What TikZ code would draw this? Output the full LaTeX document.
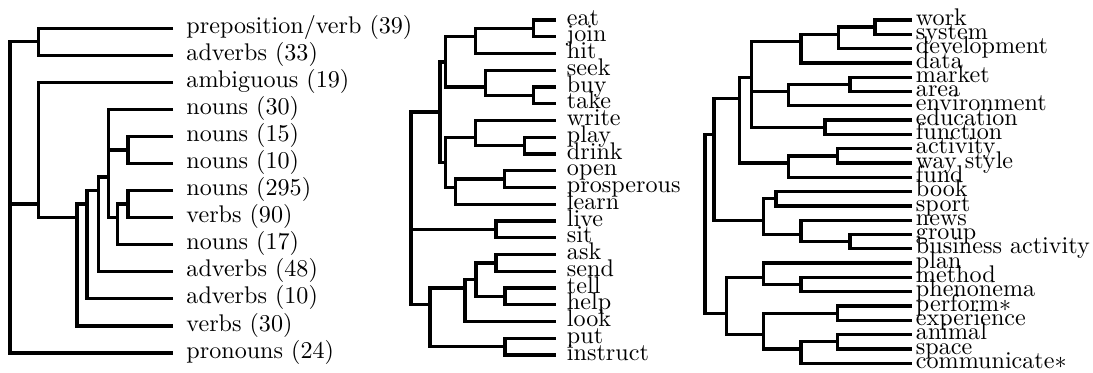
\documentclass[tikz,border=0pt]{standalone}
\begin{document}
\begin{tikzpicture}[x=0.415pt,y=-0.415pt,
  link/.style={line width=1.37pt, line join=miter},
  lab/.style={anchor=mid west, inner sep=0pt, font=\fontsize{10}{12}\selectfont}]
\useasboundingbox (0,0) rectangle (1093,372);

% ---------- left dendrogram ----------
\foreach \i/\y in {0/28.3,1/55.35,2/82.4,3/109.45,4/136.5,5/163.55,6/190.6,7/217.65,8/244.7,9/271.75,10/298.8,11/325.85,12/352.9}
  \coordinate (L\i) at (173,\y);
\node[lab] (tL0) at (186,28.3) {preposition/verb (39)};
\node[lab] (tL1) at (186,55.35) {adverbs (33)};
\node[lab] (tL2) at (186,82.4) {ambiguous (19)};
\node[lab] (tL3) at (186,109.45) {nouns (30)};
\node[lab] (tL4) at (186,136.5) {nouns (15)};
\node[lab] (tL5) at (186,163.55) {nouns (10)};
\node[lab] (tL6) at (186,190.6) {nouns (295)};
\node[lab] (tL7) at (186,217.65) {verbs (90)};
\node[lab] (tL8) at (186,244.7) {nouns (17)};
\node[lab] (tL9) at (186,271.75) {adverbs (48)};
\node[lab] (tL10) at (186,298.8) {adverbs (10)};
\node[lab] (tL11) at (186,325.85) {verbs (30)};
\node[lab] (tL12) at (186,352.9) {pronouns (24)};

\coordinate (A) at (38.3,41.8);
\coordinate (Lroot) at (10,204.1);
\coordinate (B) at (38.3,204.1);
\coordinate (C) at (77,217.65);
\coordinate (D) at (87,204.1);
\coordinate (E) at (98.3,190.6);
\coordinate (F) at (108.3,177.1);
\coordinate (H) at (128,150);
\coordinate (G) at (117.3,217.65);
\coordinate (I) at (128,204.1);

\draw[link] (L0) -| (A) |- (L1);
\draw[link] (A) -| (Lroot) |- (L12);
\draw[link] (B) -- (Lroot);
\draw[link] (L2) -| (B) |- (C);
\draw[link] (D) -| (C) |- (L11);
\draw[link] (E) -| (D) |- (L10);
\draw[link] (F) -| (E) |- (L9);
\draw[link] (L3) -| (F) |- (G);
\draw[link] (H) -- (H -| F);
\draw[link] (L4) -| (H) |- (L5);
\draw[link] (I) -| (G) |- (L8);
\draw[link] (L6) -| (I) |- (L7);

% ---------- middle dendrogram ----------
\foreach \i/\y in {0/20,1/36.75,2/53.5,3/70.25,4/87,5/103.75,6/120.5,7/137.25,8/154,9/170.75,10/187.5,11/204.25,12/221,13/237.75,14/254.5,15/271.25,16/288,17/304.75,18/321.5,19/338.25,20/355}
  \coordinate (M\i) at (555.7,\y);
\node[lab] (tM0) at (566.5,20) {eat};
\node[lab] (tM1) at (566.5,36.75) {join};
\node[lab] (tM2) at (566.5,53.5) {hit};
\node[lab] (tM3) at (566.5,70.25) {seek};
\node[lab] (tM4) at (566.5,87) {buy};
\node[lab] (tM5) at (566.5,103.75) {take};
\node[lab] (tM6) at (566.5,120.5) {write};
\node[lab] (tM7) at (566.5,137.25) {play};
\node[lab] (tM8) at (566.5,154) {drink};
\node[lab] (tM9) at (566.5,170.75) {open};
\node[lab] (tM10) at (566.5,187.5) {prosperous};
\node[lab] (tM11) at (566.5,204.25) {learn};
\node[lab] (tM12) at (566.5,221) {live};
\node[lab] (tM13) at (566.5,237.75) {sit};
\node[lab] (tM14) at (566.5,254.5) {ask};
\node[lab] (tM15) at (566.5,271.25) {send};
\node[lab] (tM16) at (566.5,288) {tell};
\node[lab] (tM17) at (566.5,304.75) {help};
\node[lab] (tM18) at (566.5,321.5) {look};
\node[lab] (tM19) at (566.5,338.25) {put};
\node[lab] (tM20) at (566.5,355) {instruct};

\coordinate (N1) at (533.5,28.375);
\coordinate (N2) at (475.5,36.75);
\coordinate (N4) at (533.5,95.375);
\coordinate (N3) at (485.5,87);
\coordinate (N5) at (445.5,61.875);
\coordinate (N14) at (524.5,145.625);
\coordinate (N8) at (475.5,137.25);
\coordinate (N15) at (504.5,179.125);
\coordinate (N9) at (455.5,187.5);
\coordinate (N7) at (445.5,162.375);
\coordinate (N6) at (440,112.125);
\coordinate (N16) at (496,229.375);
\coordinate (N17) at (496,262.875);
\coordinate (N18) at (505,296.375);
\coordinate (N13) at (476,279.625);
\coordinate (N11) at (465,288);
\coordinate (N12) at (505,346.625);
\coordinate (N10) at (430,304.75);
\coordinate (Mroot) at (411,229.375);

\draw[link] (M0) -| (N1) |- (M1);
\draw[link] (N1) -| (N2) |- (M2);
\draw[link] (M4) -| (N4) |- (M5);
\draw[link] (M3) -| (N3) |- (N4);
\draw[link] (N2) -| (N5) |- (N3);
\draw[link] (M7) -| (N14) |- (M8);
\draw[link] (M6) -| (N8) |- (N14);
\draw[link] (M9) -| (N15) |- (M10);
\draw[link] (N15) -| (N9) |- (M11);
\draw[link] (N8) -| (N7) |- (N9);
\draw[link] (N5) -| (N6) |- (N7);
\draw[link] (M12) -| (N16) |- (M13);
\draw[link] (M14) -| (N17) |- (M15);
\draw[link] (M16) -| (N18) |- (M17);
\draw[link] (N17) -| (N13) |- (N18);
\draw[link] (N13) -| (N11) |- (M18);
\draw[link] (M19) -| (N12) |- (M20);
\draw[link] (N11) -| (N10) |- (N12);
\draw[link] (N6) -| (Mroot) |- (N10);
\draw[link] (N16) -- (Mroot);

% ---------- right dendrogram ----------
\foreach \i/\y in {0/20,1/34.3,2/48.6,3/62.9,4/77.2,5/91.5,6/105.8,7/120.1,8/134.4,9/148.7,10/163,11/177.3,12/191.6,13/205.9,14/220.2,15/234.5,16/248.8,17/263.1,18/277.4,19/291.7,20/306,21/320.3,22/334.6,23/348.9,24/363.2}
  \coordinate (Q\i) at (911.7,\y);
\node[lab] (tQ0) at (915.5,20) {work};
\node[lab] (tQ1) at (915.5,34.3) {system};
\node[lab] (tQ2) at (915.5,48.6) {development};
\node[lab] (tQ3) at (915.5,62.9) {data};
\node[lab] (tQ4) at (915.5,77.2) {market};
\node[lab] (tQ5) at (915.5,91.5) {area};
\node[lab] (tQ6) at (915.5,105.8) {environment};
\node[lab] (tQ7) at (915.5,120.1) {education};
\node[lab] (tQ8) at (915.5,134.4) {function};
\node[lab] (tQ9) at (915.5,148.7) {activity};
\node[lab] (tQ10) at (915.5,163) {way style};
\node[lab] (tQ11) at (915.5,177.3) {fund};
\node[lab] (tQ12) at (915.5,191.6) {book};
\node[lab] (tQ13) at (915.5,205.9) {sport};
\node[lab] (tQ14) at (915.5,220.2) {news};
\node[lab] (tQ15) at (915.5,234.5) {group};
\node[lab] (tQ16) at (915.5,248.8) {business activity};
\node[lab] (tQ17) at (915.5,263.1) {plan};
\node[lab] (tQ18) at (915.5,277.4) {method};
\node[lab] (tQ19) at (915.5,291.7) {phenonema};
\node[lab] (tQ20) at (915.5,306) {perform$\ast$};
\node[lab] (tQ21) at (915.5,320.3) {experience};
\node[lab] (tQ22) at (915.5,334.6) {animal};
\node[lab] (tQ23) at (915.5,348.9) {space};
\node[lab] (tQ24) at (915.5,363.2) {communicate$\ast$};

\coordinate (R1) at (875,27.15);
\coordinate (R2) at (838.3,34.3);
\coordinate (R3) at (801,41.45);
\coordinate (R5) at (850,84.35);
\coordinate (R4) at (788.3,91.5);
\coordinate (R6) at (825,127.25);
\coordinate (R7) at (751.7,77.2);
\coordinate (R8) at (837.7,155.85);
\coordinate (R9) at (788.3,163);
\coordinate (R10) at (739.3,98.65);
\coordinate (R13) at (776,198.75);
\coordinate (R15) at (850,241.65);
\coordinate (R14) at (801,234.5);
\coordinate (R12) at (763.3,220.2);
\coordinate (R11) at (714,134.4);
\coordinate (R19) at (801,284.55);
\coordinate (R17) at (763.3,277.4);
\coordinate (R20) at (837.7,313.15);
\coordinate (R22) at (837.7,341.75);
\coordinate (R21) at (801,348.9);
\coordinate (R18) at (763.3,334.6);
\coordinate (R16) at (726.7,313.15);
\coordinate (R0) at (705,191.6);

\draw[link] (Q0) -| (R1) |- (Q1);
\draw[link] (R1) -| (R2) |- (Q2);
\draw[link] (R2) -| (R3) |- (Q3);
\draw[link] (Q4) -| (R5) |- (Q5);
\draw[link] (R5) -| (R4) |- (Q6);
\draw[link] (Q7) -| (R6) |- (Q8);
\draw[link] (R3) -| (R7) |- (R6);
\draw[link] (R4) -- (R4 -| R7);
\draw[link] (Q9) -| (R8) |- (Q10);
\draw[link] (R8) -| (R9) |- (Q11);
\draw[link] (R7) -| (R10) |- (R9);
\draw[link] (Q12) -| (R13) |- (Q13);
\draw[link] (Q15) -| (R15) |- (Q16);
\draw[link] (Q14) -| (R14) |- (R15);
\draw[link] (R13) -| (R12) |- (R14);
\draw[link] (R10) -| (R11) |- (R12);
\draw[link] (Q18) -| (R19) |- (Q19);
\draw[link] (Q17) -| (R17) |- (R19);
\draw[link] (Q20) -| (R20) |- (Q21);
\draw[link] (Q22) -| (R22) |- (Q23);
\draw[link] (R22) -| (R21) |- (Q24);
\draw[link] (R20) -| (R18) |- (R21);
\draw[link] (R17) -| (R16) |- (R18);
\draw[link] (R11) -| (R0) |- (R16);
\end{tikzpicture}
\end{document}
